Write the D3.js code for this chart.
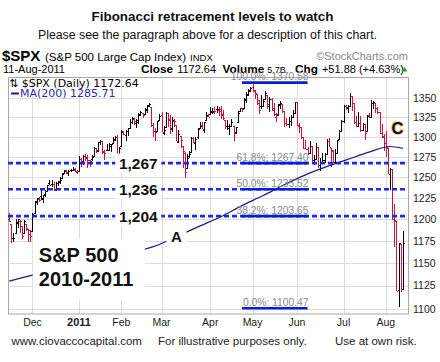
<!DOCTYPE html>
<html>
<head>
<meta charset="utf-8">
<script src="https://cdn.jsdelivr.net/npm/d3@7"></script>
<style>
  html, body { margin: 0; padding: 0; background: #fff; }
  svg { display: block; font-family: "Liberation Sans", Arial, sans-serif; }
</style>
</head>
<body>
<svg id="chart" width="440" height="362"></svg>
<script>
// Trading sessions shown on the chart, month by month
const sessions = [
  ["2010-11", [15,16,17,18,19,22,23,24,26,29,30]],
  ["2010-12", [1,2,3,6,7,8,9,10,13,14,15,16,17,20,21,22,23,27,28,29,30,31]],
  ["2011-01", [3,4,5,6,7,10,11,12,13,14,18,19,20,21,24,25,26,27,28,31]],
  ["2011-02", [1,2,3,4,7,8,9,10,11,14,15,16,17,18,22,23,24,25,28]],
  ["2011-03", [1,2,3,4,7,8,9,10,11,14,15,16,17,18,21,22,23,24,25,28,29,30,31]],
  ["2011-04", [1,4,5,6,7,8,11,12,13,14,15,18,19,20,21,25,26,27,28,29]],
  ["2011-05", [2,3,4,5,6,9,10,11,12,13,16,17,18,19,20,23,24,25,26,27,31]],
  ["2011-06", [1,2,3,6,7,8,9,10,13,14,15,16,17,20,21,22,23,24,27,28,29,30]],
  ["2011-07", [1,5,6,7,8,11,12,13,14,15,18,19,20,21,22,25,26,27,28,29]],
  ["2011-08", [1,2,3,4,5,8,9,10,11]]
];

// $SPX daily OHLC (one row per month)
const opens = [
  1200.4,1194.8,1178.3,1183.8,1196.1,1198.1,1192.5,1183.7,1194.2,1189.1,1183.0,
  1186.6,1206.8,1219.9,1223.9,1227.3,1225.0,1230.1,1233.9,1242.5,1241.8,1241.6,1236.3,1243.6,1245.8,1249.4,1254.9,1257.5,1254.7,1259.1,1258.8,1259.4,1256.8,
  1257.6,1272.9,1268.8,1276.3,1274.4,1270.8,1272.6,1275.7,1285.8,1282.9,1293.2,1294.5,1280.9,1283.6,1283.3,1288.2,1292.0,1297.5,1299.6,1276.5,
  1289.1,1305.9,1302.8,1307.0,1311.9,1318.8,1322.5,1318.1,1318.7,1328.7,1330.4,1329.5,1334.4,1340.4,1338.9,1315.4,1307.1,1307.3,1321.6,
  1328.6,1305.5,1312.4,1330.7,1322.7,1311.1,1319.9,1315.7,1293.4,1301.2,1288.5,1279.5,1261.6,1276.7,1281.7,1298.3,1292.2,1300.6,1311.8,1315.5,1309.4,1321.9,1327.4,
  1329.5,1333.6,1332.0,1335.9,1334.8,1336.2,1329.0,1322.0,1314.0,1311.1,1314.5,1313.4,1306.0,1319.1,1333.2,1337.1,1336.8,1348.4,1353.9,1360.1,
  1365.2,1359.8,1355.9,1344.2,1340.2,1340.2,1348.3,1354.5,1339.4,1348.7,1334.8,1326.1,1328.5,1342.4,1342.0,1333.1,1317.7,1316.4,1320.6,1325.7,1331.1,
  1345.2,1314.6,1312.9,1300.3,1286.3,1284.6,1279.6,1288.3,1271.3,1272.2,1287.9,1265.5,1268.6,1271.5,1278.4,1295.5,1286.6,1283.0,1268.4,1280.2,1296.9,1307.6,
  1320.6,1339.6,1337.6,1339.6,1352.4,1343.3,1319.6,1314.5,1317.7,1308.9,1315.9,1307.1,1328.7,1325.7,1343.8,1344.3,1337.4,1331.9,1304.8,1300.1,
  1292.6,1286.6,1254.3,1260.2,1200.3,1198.5,1120.2,1171.8,1121.3
];
const highs = [
  1207.4,1194.8,1183.6,1200.3,1200.0,1198.9,1192.5,1198.6,1194.2,1189.1,1187.4,
  1207.6,1221.9,1225.6,1225.8,1235.1,1228.9,1234.7,1240.4,1246.7,1246.6,1244.3,1243.8,1245.8,1250.2,1255.8,1259.4,1258.6,1258.4,1259.9,1262.6,1261.1,1259.3,
  1276.2,1274.1,1277.6,1278.2,1276.8,1271.5,1277.2,1286.9,1286.6,1293.2,1296.1,1294.6,1283.4,1291.2,1291.9,1291.3,1299.7,1301.3,1302.7,1287.2,
  1308.9,1307.6,1308.6,1311.0,1322.9,1324.9,1324.5,1322.8,1330.8,1333.0,1330.4,1337.6,1341.5,1344.1,1338.9,1317.9,1310.9,1320.6,1329.4,
  1332.1,1314.2,1332.3,1331.1,1327.7,1325.7,1323.2,1315.7,1308.4,1301.2,1288.5,1280.9,1278.9,1282.4,1300.6,1299.4,1300.5,1311.3,1319.2,1319.7,1319.5,1331.7,1329.8,
  1337.9,1336.7,1338.2,1339.4,1338.8,1339.5,1334.0,1322.0,1321.4,1316.8,1322.9,1313.4,1312.7,1332.7,1337.5,1337.6,1349.6,1357.5,1361.7,1364.6,
  1370.6,1360.8,1355.9,1348.0,1354.4,1349.4,1359.4,1354.5,1351.1,1350.5,1343.3,1330.4,1341.8,1346.8,1342.0,1333.1,1323.7,1325.9,1328.5,1334.6,1345.2,
  1345.2,1318.0,1312.9,1300.3,1296.2,1287.0,1294.5,1288.3,1277.0,1292.5,1287.9,1274.1,1279.8,1280.4,1297.6,1298.6,1286.6,1284.0,1284.9,1296.8,1309.2,1322.0,
  1341.0,1340.9,1340.9,1356.5,1352.4,1343.3,1327.2,1331.5,1326.9,1317.7,1315.9,1328.1,1330.4,1347.0,1346.1,1344.3,1338.5,1331.9,1316.3,1304.2,
  1307.4,1286.6,1261.2,1260.2,1218.1,1198.5,1172.9,1171.8,1186.3
];
const lows = [
  1197.2,1173.0,1173.8,1183.8,1189.4,1184.3,1176.9,1183.7,1186.9,1173.6,1174.1,
  1186.6,1206.8,1216.6,1220.7,1223.2,1219.5,1226.8,1232.6,1240.3,1238.2,1234.0,1232.9,1239.9,1241.5,1249.4,1254.9,1254.0,1251.5,1256.2,1258.8,1256.3,1254.2,
  1257.6,1262.7,1265.4,1270.4,1261.7,1262.2,1269.6,1275.7,1280.5,1281.1,1290.2,1278.9,1271.3,1282.1,1282.5,1281.1,1291.0,1294.4,1275.1,1276.5,
  1289.1,1302.6,1294.8,1301.7,1311.9,1316.0,1314.9,1311.7,1316.1,1326.9,1324.6,1329.5,1331.0,1338.1,1312.3,1299.6,1294.3,1307.3,1320.6,
  1306.1,1302.6,1312.4,1312.6,1304.0,1306.9,1312.3,1294.3,1292.0,1286.4,1261.1,1249.1,1261.6,1273.2,1281.7,1292.7,1284.0,1297.7,1310.2,1310.2,1305.3,1321.9,1325.0,
  1328.9,1329.1,1330.0,1331.1,1326.6,1322.9,1321.1,1309.5,1309.2,1302.4,1313.7,1294.7,1304.0,1319.1,1332.0,1331.5,1336.8,1344.3,1353.6,1358.7,
  1358.6,1349.5,1341.5,1329.2,1335.6,1338.6,1348.3,1336.4,1332.0,1333.4,1327.3,1318.5,1326.6,1336.1,1330.7,1312.6,1313.9,1311.8,1314.4,1325.7,1331.1,
  1313.7,1305.6,1297.9,1284.9,1284.7,1277.4,1279.6,1268.3,1265.6,1272.2,1261.9,1258.1,1267.4,1267.6,1278.4,1286.8,1262.9,1267.0,1267.5,1280.2,1296.9,1307.6,
  1318.2,1334.3,1330.9,1339.6,1333.7,1316.4,1313.3,1314.5,1306.5,1307.5,1295.9,1307.1,1323.7,1325.7,1336.0,1331.1,1329.6,1303.5,1299.2,1282.9,
  1274.7,1254.0,1234.6,1199.5,1168.1,1119.3,1101.5,1118.0,1121.3
];
const closes = [
  1197.75,1178.34,1178.59,1196.69,1199.73,1197.84,1180.73,1198.35,1189.40,1187.76,1180.55,
  1206.07,1221.53,1224.71,1223.12,1223.75,1228.28,1233.00,1240.40,1240.46,1241.59,1235.23,1242.87,1243.91,1247.08,1254.60,1258.84,1256.77,1257.54,1258.51,1259.78,1257.88,1257.64,
  1271.87,1270.20,1276.56,1273.85,1271.50,1269.75,1274.48,1285.96,1283.76,1293.24,1295.02,1281.92,1280.26,1283.35,1290.84,1291.18,1296.63,1299.54,1276.34,1286.12,
  1307.59,1304.03,1307.10,1310.87,1319.05,1324.57,1320.88,1321.87,1329.15,1332.32,1328.01,1336.32,1340.43,1343.01,1315.44,1307.40,1306.10,1319.88,1327.22,
  1306.33,1308.44,1330.97,1321.15,1310.13,1321.82,1320.02,1295.11,1304.28,1296.39,1281.87,1256.88,1273.72,1279.21,1298.38,1293.77,1297.54,1309.66,1313.80,1310.19,1319.44,1328.26,1325.83,
  1332.41,1332.87,1332.63,1335.54,1333.51,1328.17,1324.46,1314.16,1314.41,1314.52,1319.68,1305.14,1312.62,1330.36,1337.38,1335.25,1347.24,1355.66,1360.48,1363.61,
  1361.22,1356.62,1347.32,1335.10,1340.20,1346.29,1357.16,1342.08,1348.65,1337.77,1329.47,1328.98,1340.68,1343.60,1333.27,1317.37,1316.28,1320.47,1325.69,1331.10,1345.20,
  1314.55,1312.94,1300.16,1286.17,1284.94,1279.56,1289.00,1270.98,1271.83,1287.87,1265.42,1267.64,1271.50,1278.36,1295.52,1287.14,1283.50,1268.45,1280.10,1296.67,1307.41,1320.64,
  1339.67,1337.88,1339.22,1353.22,1343.80,1319.49,1313.64,1317.72,1308.87,1316.14,1305.44,1326.73,1325.84,1343.80,1345.02,1337.43,1331.94,1304.89,1300.67,1292.28,
  1286.94,1254.05,1260.34,1200.07,1199.38,1119.46,1172.53,1120.76,1172.64
];
const prevClose = 1199.21; // Nov 12, 2010

// 200-day moving average
const maDates  = ["2010-11-15","2010-11-30","2010-12-14","2010-12-29","2011-01-12","2011-01-27","2011-02-10","2011-02-25","2011-03-11","2011-03-25",
                  "2011-04-08","2011-04-25","2011-05-09","2011-05-23","2011-06-07","2011-06-21","2011-07-06","2011-07-20","2011-08-03","2011-08-11"];
const maValues = [1130,1136,1141,1146,1152,1158,1163,1170,1181,1192,
                  1203,1216,1228,1241,1253,1263,1272,1281,1288,1285.71];

// Fibonacci retracement levels
const fibLabels = ["100.0%: 1370.58","61.8%: 1267.40","50.0%: 1235.52","38.2%: 1203.65","0.0%: 1100.47"];
const fibValues = [1370.58, 1267.40, 1235.52, 1203.65, 1100.47];
const fibSpan = ["2011-04-25","2011-06-08"];

// highlighted levels (dashed) and their callouts
const keyLevels = [1267.40, 1235.52, 1203.65];
const keyLabels = ["1,267", "1,236", "1,204"];
const keyLabelDate = "2011-02-11";

// axes
const priceTicks = [1100,1125,1150,1175,1200,1225,1250,1275,1300,1325,1350];
const monthTickDates = ["2010-12-01","2011-01-03","2011-02-01","2011-03-01","2011-04-01","2011-05-02","2011-06-01","2011-07-01","2011-08-01"];
const monthTickLabels = ["Dec","2011","Feb","Mar","Apr","May","Jun","Jul","Aug"];

// ------------------------------------------------------------------
const dates = [];
sessions.forEach(([ym, days]) => days.forEach(d => dates.push(ym + "-" + String(d).padStart(2, "0"))));
if (dates.length !== closes.length || opens.length !== closes.length || highs.length !== closes.length || lows.length !== closes.length) {
  throw new Error("length mismatch " + [dates.length, opens.length, highs.length, lows.length, closes.length].join(","));
}
const dayIndex = d => dates.indexOf(d);

const data = closes.map((c, i) => ({
  i: i, o: opens[i], h: highs[i], l: lows[i], c: c,
  up: c >= (i === 0 ? prevClose : closes[i - 1])
}));

const svg = d3.select("#chart");
const plot = { left: 8, right: 408, top: 77, bottom: 313.5 };

const x = d3.scaleLinear().domain([0, closes.length - 1]).range([9.2, 402.8]);
const y = d3.scaleLog().domain([1095.1, 1378.1]).range([313.3, 77]);

svg.append("defs").append("clipPath").attr("id", "plotclip")
  .append("rect").attr("x", plot.left).attr("y", plot.top)
  .attr("width", plot.right - plot.left).attr("height", plot.bottom - plot.top);

// Header
svg.append("text").attr("x", 212.5).attr("y", 20.5).attr("text-anchor", "middle")
  .attr("font-size", 13.4).attr("font-weight", "bold").attr("fill", "#111")
  .text("Fibonacci retracement levels to watch");
svg.append("text").attr("x", 207.5).attr("y", 38.8).attr("text-anchor", "middle")
  .attr("font-size", 12.3).attr("fill", "#111")
  .text("Please see the paragraph above for a description of this chart.");

const h1 = svg.append("text").attr("y", 61).attr("fill", "#000");
h1.append("tspan").attr("x", 2).attr("font-size", 15).attr("font-weight", "bold").text("$SPX");
h1.append("tspan").attr("x", 45).attr("font-size", 11.5).text("(S&P 500 Large Cap Index)");
h1.append("tspan").attr("dx", 4).attr("font-size", 9.5).text("INDX");
svg.append("text").attr("x", 408).attr("y", 60).attr("text-anchor", "end")
  .attr("font-size", 11).attr("fill", "#888").text("\u00a9StockCharts.com");

const h2 = svg.append("text").attr("y", 73.3).attr("fill", "#000").attr("font-size", 11);
h2.append("tspan").attr("x", 3).text("11-Aug-2011");
h2.append("tspan").attr("x", 141).attr("font-weight", "bold").attr("font-size", 11.8).text("Close");
h2.append("tspan").attr("dx", 4).text("1172.64");
h2.append("tspan").attr("x", 222.5).attr("font-weight", "bold").attr("font-size", 11.8).text("Volume");
h2.append("tspan").attr("dx", 3).attr("font-size", 9).text("5.7B");
h2.append("tspan").attr("x", 295).attr("font-weight", "bold").attr("font-size", 11.8).text("Chg");
h2.append("tspan").attr("dx", 4).text("+51.88 (+4.63%)");
svg.append("path").attr("d", "M401.5,71.5 L404.5,67 L407.5,71.5 Z").attr("fill", "#2a9a2a");

// Grid
svg.append("g").selectAll("line").data(priceTicks).join("line")
  .attr("x1", plot.left).attr("x2", plot.right)
  .attr("y1", d => Math.round(y(d)) + 0.5).attr("y2", d => Math.round(y(d)) + 0.5)
  .attr("stroke", "#dcdcdc").attr("stroke-width", 1);
svg.append("g").selectAll("line").data(monthTickDates).join("line")
  .attr("x1", d => Math.round(x(dayIndex(d))) + 0.5).attr("x2", d => Math.round(x(dayIndex(d))) + 0.5)
  .attr("y1", plot.top).attr("y2", plot.bottom)
  .attr("stroke", "#dcdcdc").attr("stroke-width", 1);

svg.append("rect").attr("x", plot.left + 0.5).attr("y", plot.top + 0.5)
  .attr("width", plot.right - plot.left).attr("height", plot.bottom - plot.top)
  .attr("fill", "none").attr("stroke", "#a8a8a8");

// Axes labels
svg.append("g").selectAll("text").data(priceTicks).join("text")
  .attr("x", 413).attr("y", d => y(d) + 3.8)
  .attr("font-size", 10.5).attr("fill", "#222").text(d => d);
svg.append("g").selectAll("text").data(monthTickDates).join("text")
  .attr("x", d => x(dayIndex(d))).attr("y", 326)
  .attr("text-anchor", "middle").attr("fill", "#222")
  .attr("font-weight", (d, i) => monthTickLabels[i] === "2011" ? "bold" : "normal")
  .attr("font-size", (d, i) => monthTickLabels[i] === "2011" ? 11 : 10.5)
  .text((d, i) => monthTickLabels[i]);

const inner = svg.append("g").attr("clip-path", "url(#plotclip)");

// Price bars
const px = i => Math.round(x(i)) + 0.5;
const bars = inner.append("g").attr("shape-rendering", "crispEdges")
  .selectAll("g").data(data).join("g")
  .attr("stroke", d => d.up ? "#000" : "#d4103c").attr("stroke-width", 1);
bars.append("line")
  .attr("x1", d => px(d.i)).attr("x2", d => px(d.i))
  .attr("y1", d => y(d.h)).attr("y2", d => y(d.l));
bars.append("line")
  .attr("x1", d => px(d.i) - 1.5).attr("x2", d => px(d.i))
  .attr("y1", d => Math.round(y(d.o)) + 0.5).attr("y2", d => Math.round(y(d.o)) + 0.5);
bars.append("line")
  .attr("x1", d => px(d.i)).attr("x2", d => px(d.i) + 1.5)
  .attr("y1", d => Math.round(y(d.c)) + 0.5).attr("y2", d => Math.round(y(d.c)) + 0.5);

// MA(200)
inner.append("path")
  .datum(maDates.map((d, k) => [dayIndex(d), maValues[k]]))
  .attr("d", d3.line().x(d => x(d[0])).y(d => y(d[1])).curve(d3.curveMonotoneX))
  .attr("fill", "none").attr("stroke", "#1c1c8c").attr("stroke-width", 1.2);

// Fibonacci segments and labels
const fx0 = x(dayIndex(fibSpan[0])), fx1 = x(dayIndex(fibSpan[1]));
svg.append("g").selectAll("text").data(fibValues).join("text")
  .attr("x", fx1 + 1).attr("y", d => y(d) - 2.2).attr("text-anchor", "end")
  .attr("font-size", 10.3).attr("fill", "#8a8a8a")
  .text((d, k) => fibLabels[k]);

// dashed key levels
inner.append("g").selectAll("line").data(keyLevels).join("line")
  .attr("x1", plot.left).attr("x2", plot.right)
  .attr("y1", d => y(d)).attr("y2", d => y(d))
  .attr("stroke", "#1a2ae0").attr("stroke-width", 2.6).attr("stroke-dasharray", "5,3");

svg.append("g").selectAll("line").data(fibValues).join("line")
  .attr("x1", fx0).attr("x2", fx1)
  .attr("y1", d => y(d)).attr("y2", d => y(d))
  .attr("stroke", "#0a1ed8").attr("stroke-width", 2.6);

// callouts on the key levels
const kx = x(dayIndex(keyLabelDate));
const kl = svg.append("g").selectAll("g").data(keyLevels).join("g");
kl.append("rect").attr("x", kx - 23).attr("y", d => y(d) - 9.5).attr("width", 46).attr("height", 19)
  .attr("fill", "#fff");
kl.append("text").attr("x", kx).attr("y", d => y(d) + 5.6).attr("text-anchor", "middle")
  .attr("font-size", 15.5).attr("font-weight", "bold").attr("fill", "#111")
  .text((d, k) => keyLabels[k]);

// big label
const sx = x(dayIndex("2010-12-06")), sy = y(1151.6);
svg.append("rect").attr("x", sx - 6).attr("y", sy - 23).attr("width", 112).attr("height", 62).attr("fill", "#fff");
svg.append("text").attr("x", sx).attr("y", sy).attr("font-size", 20).attr("font-weight", "bold")
  .attr("fill", "#111").text("S&P 500");
svg.append("text").attr("x", sx).attr("y", sy + 24).attr("font-size", 20).attr("font-weight", "bold")
  .attr("fill", "#111").text("2010-2011");

// A and C
const ax = x(dayIndex("2011-03-10")), ay = y(1174.0);
svg.append("rect").attr("x", ax - 10).attr("y", ay - 14).attr("width", 20).attr("height", 17).attr("fill", "#fff");
svg.append("text").attr("x", ax).attr("y", ay).attr("text-anchor", "middle")
  .attr("font-size", 15).attr("font-weight", "bold").attr("fill", "#111").text("A");
const cx = (x(dayIndex("2011-08-08")) + x(dayIndex("2011-08-09"))) / 2, cy = y(1303.3);
svg.append("text").attr("x", cx).attr("y", cy).attr("text-anchor", "middle")
  .attr("font-size", 16.5).attr("font-weight", "bold").attr("fill", "#111")
  .attr("stroke", "#f3c98a").attr("stroke-width", 2).attr("paint-order", "stroke")
  .text("C");

// legend inside the plot
const lg = svg.append("g").attr("font-family", "'DejaVu Sans', Verdana, sans-serif").attr("font-size", 11);
lg.append("text").attr("x", 9).attr("y", 87.3).attr("fill", "#000").text("\u21c5 $SPX (Daily) 1172.64");
lg.append("line").attr("x1", 11).attr("x2", 19).attr("y1", 93.5).attr("y2", 93.5)
  .attr("stroke", "#1c1c8c").attr("stroke-width", 2);
lg.append("text").attr("x", 20).attr("y", 96.8).attr("fill", "#2a2aa6").text("MA(200) 1285.71");

// footer
const ft = svg.append("g").attr("font-size", 11.5).attr("fill", "#222");
ft.append("text").attr("x", 11.5).attr("y", 345).text("www.ciovaccocapital.com");
ft.append("text").attr("x", 158).attr("y", 345).text("For illustrative purposes only.");
ft.append("text").attr("x", 335).attr("y", 345).text("Use at own risk.");
</script>
</body>
</html>
